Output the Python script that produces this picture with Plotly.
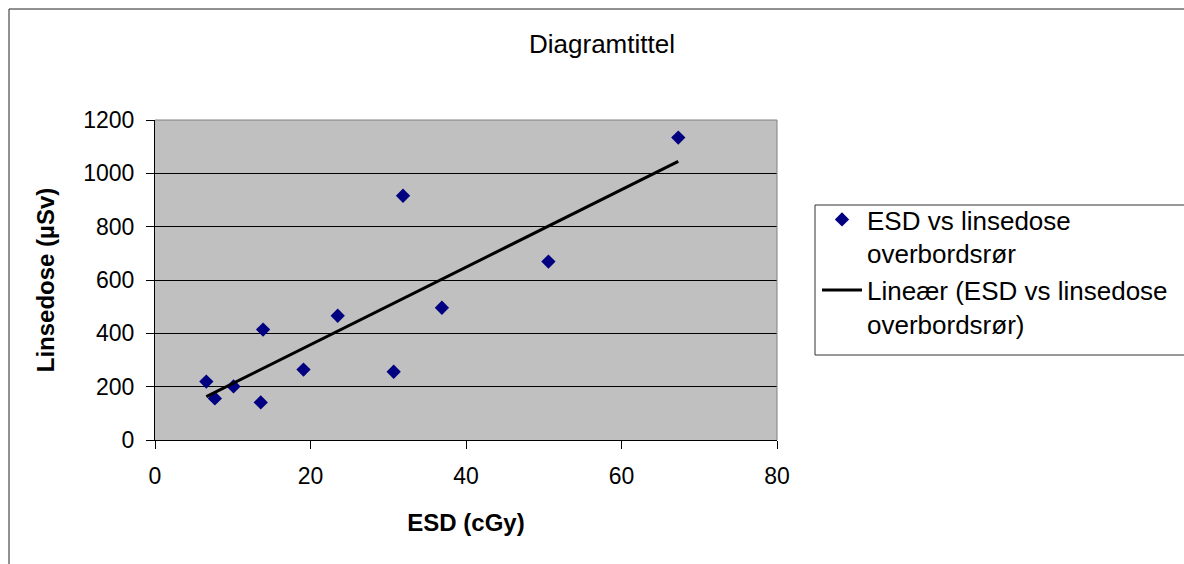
import numpy as np
import plotly.graph_objects as go

esd = [6.6, 7.7, 10.1, 13.6, 13.9, 19.1, 23.5, 30.7, 31.9, 36.9, 50.6, 67.3]
linsedose = [219, 156, 201, 141, 414, 264, 466, 256, 916, 496, 669, 1134]

x_ticks = [0, 20, 40, 60, 80]
y_ticks = [0, 200, 400, 600, 800, 1000, 1200]

slope, intercept = np.polyfit(esd, linsedose, 1)
trend_x = [min(esd), max(esd)]
trend_y = [slope * v + intercept for v in trend_x]

FONT = "Liberation Sans, Arial, sans-serif"

# plot area in pixels
L, R, T, B = 155, 777, 120, 440
W, H = 1184, 564

def px(x):
    return (x - L) / (R - L)

def py(y):
    return (B - y) / (B - T)

fig = go.Figure()
fig.add_trace(go.Scatter(
    x=esd, y=linsedose, mode="markers",
    name="ESD vs linsedose<br>overbordsrør",
    marker=dict(symbol="diamond", size=11, color="#000080", line=dict(width=0)),
))
fig.add_trace(go.Scatter(
    x=trend_x, y=trend_y, mode="lines",
    name="Lineær (ESD vs linsedose<br>overbordsrør)",
    line=dict(color="black", width=3),
))

fig.update_layout(
    width=W, height=H,
    margin=dict(l=L, r=W - R, t=T, b=H - B, autoexpand=False),
    paper_bgcolor="white",
    plot_bgcolor="#C0C0C0",
    font=dict(family=FONT, size=23, color="black"),
    title=dict(text="Diagramtittel", x=602 / W, xanchor="center",
               y=1 - 44 / H, yanchor="middle",
               font=dict(family=FONT, size=26, color="black")),
    showlegend=True,
    legend=dict(
        x=px(817), y=py(196), xanchor="left", yanchor="top",
        bgcolor="rgba(0,0,0,0)", borderwidth=0,
        font=dict(family=FONT, size=26, color="black"),
        valign="top", itemwidth=40, tracegroupgap=0,
    ),
    xaxis=dict(
        range=[0, 80], tickvals=x_ticks, ticktext=[str(v) for v in x_ticks],
        showgrid=False, zeroline=False,
        showline=True, linecolor="black", linewidth=1,
        ticks="outside", ticklen=8, tickcolor="black", tickwidth=1,
        ticklabelstandoff=7,
        tickfont=dict(family=FONT, size=23),
        title=dict(text="<b>ESD (cGy)</b>", standoff=26,
                   font=dict(family=FONT, size=24)),
    ),
    yaxis=dict(
        range=[0, 1200], tickvals=y_ticks, ticktext=[str(v) for v in y_ticks],
        showgrid=True, gridcolor="black", gridwidth=1,
        zeroline=False,
        showline=True, linecolor="black", linewidth=1,
        ticks="outside", ticklen=8, tickcolor="black", tickwidth=1,
        ticklabelstandoff=7,
        tickfont=dict(family=FONT, size=23),
        title=dict(text="<b>Linsedose (µSv)</b>", standoff=21,
                   font=dict(family=FONT, size=24)),
    ),
    shapes=[
        # plot area top/right border
        dict(type="line", xref="paper", yref="paper", x0=0, x1=1, y0=1, y1=1,
             line=dict(color="#808080", width=1)),
        dict(type="line", xref="paper", yref="paper", x0=1, x1=1, y0=0, y1=1,
             line=dict(color="#808080", width=1)),
        # outer chart border
        dict(type="rect", xref="paper", yref="paper",
             x0=px(9), x1=px(1200), y0=py(580), y1=py(9),
             line=dict(color="#222222", width=1), layer="below"),
        # legend box
        dict(type="rect", xref="paper", yref="paper",
             x0=px(815), x1=px(1200), y0=py(355), y1=py(205),
             fillcolor="white", line=dict(color="#333333", width=1),
             layer="above"),
    ],
)

fig.write_html("out.html")
